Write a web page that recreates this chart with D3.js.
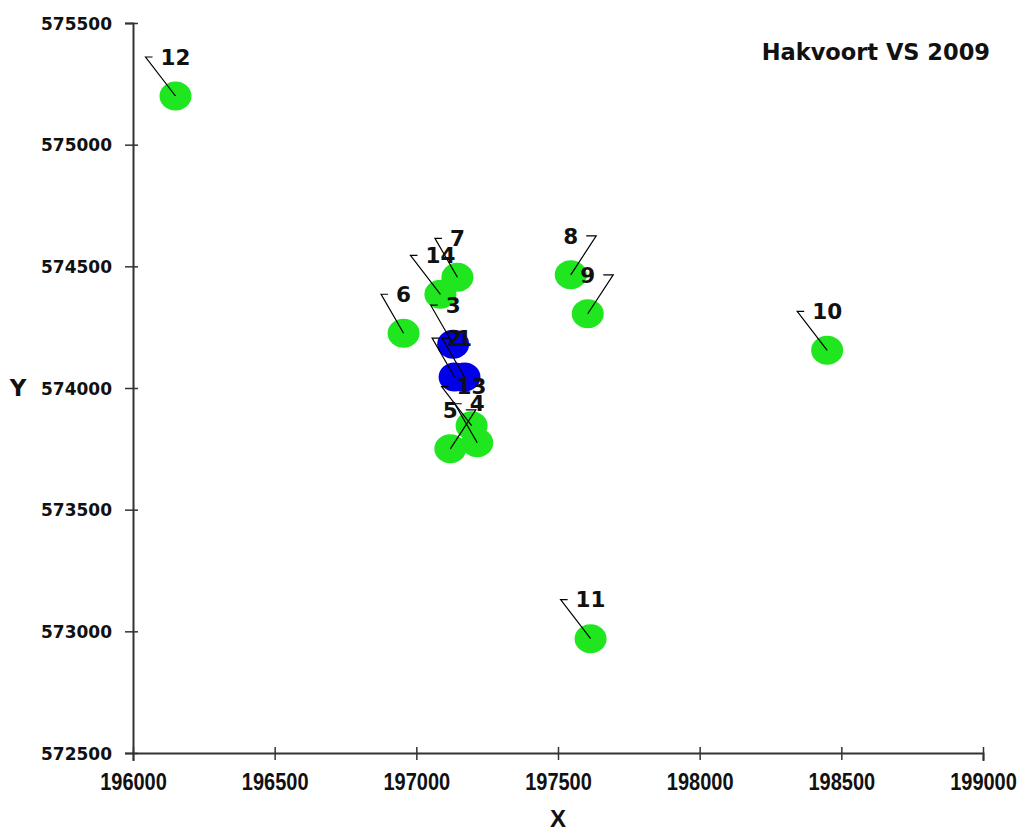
<!DOCTYPE html>
<html>
<head>
<meta charset="utf-8">
<script src="https://cdn.jsdelivr.net/npm/d3@7/dist/d3.min.js"></script>
<style>
  html, body { margin: 0; padding: 0; background: #fff; }
  svg { display: block; }
</style>
</head>
<body>
<svg id="chart" width="1022" height="832"></svg>
<script>
// ---- data ----
const pointIds   = [1, 2, 3, 4, 5, 6, 7, 8, 9, 10, 11, 12, 13, 14];
const pointX     = [197170, 197135, 197130, 197215, 197120, 196955, 197145, 197545, 197605, 198450, 197615, 196150, 197195, 197085];
const pointY     = [574045, 574045, 574180, 573775, 573750, 574225, 574455, 574465, 574305, 574155, 572970, 575200, 573845, 574385];
const pointGroup = ["blue", "blue", "blue", "green", "green", "green", "green", "green", "green", "green", "green", "green", "green", "green"];
const labelSide  = ["left", "left", "left", "left", "right", "left", "left", "right", "right", "left", "left", "left", "left", "left"];
const xTicks = [196000, 196500, 197000, 197500, 198000, 198500, 199000];
const yTicks = [572500, 573000, 573500, 574000, 574500, 575000, 575500];
const titleText = "Hakvoort VS 2009";

const points = pointIds.map((id, i) => ({
  id, x: pointX[i], y: pointY[i], group: pointGroup[i], side: labelSide[i]
}));

// ---- layout ----
const svg = d3.select("#chart");
const plotL = 133, plotR = 983, plotT = 23, plotB = 753;
const x = d3.scaleLinear().domain([196000, 199000]).range([plotL, plotR]);
const y = d3.scaleLinear().domain([572500, 575500]).range([plotB, plotT]);
const colors = { green: "#1fe61f", blue: "#0000e8" };
const axisColor = "#333";

// ---- axes ----
const gx = svg.append("g").attr("transform", `translate(0,${plotB})`)
  .call(d3.axisBottom(x).tickValues(xTicks).tickFormat(d3.format("d")).tickSizeOuter(0).tickSize(8));
gx.select(".domain").attr("stroke", axisColor).attr("stroke-width", 2);
gx.selectAll(".tick line").attr("stroke", axisColor).attr("stroke-width", 1.5).attr("y1", -6).attr("y2", 7);
gx.selectAll(".tick text")
  .attr("y", 0).attr("dy", "0.36em")
  .attr("transform", "translate(0,28) scale(1,1.2)")
  .attr("font-family", "'Liberation Sans', Arial, sans-serif")
  .attr("font-weight", "bold").attr("font-size", 20).attr("fill", "#111");

const gy = svg.append("g").attr("transform", `translate(${plotL},0)`)
  .call(d3.axisLeft(y).tickValues(yTicks).tickFormat(d3.format("d")).tickSizeOuter(0).tickSize(8));
gy.select(".domain").attr("stroke", axisColor).attr("stroke-width", 2);
gy.selectAll(".tick line").attr("stroke", axisColor).attr("stroke-width", 1.5).attr("x1", 5).attr("x2", -8);
gy.selectAll(".tick text")
  .attr("x", -21).attr("dy", "0.36em")
  .attr("font-family", "'DejaVu Sans', Verdana, sans-serif")
  .attr("font-weight", "bold").attr("font-size", 17).attr("fill", "#111");

// axis titles
svg.append("text").attr("x", 18).attr("y", y(574000)).attr("dy", "0.36em")
  .attr("text-anchor", "middle")
  .attr("font-family", "'DejaVu Sans', Verdana, sans-serif").attr("font-weight", "bold")
  .attr("font-size", 23).attr("fill", "#111").text("Y");
svg.append("text").attr("x", (plotL + plotR) / 2).attr("y", 818).attr("dy", "0.36em")
  .attr("text-anchor", "middle")
  .attr("font-family", "'Liberation Sans', Arial, sans-serif").attr("font-weight", "bold")
  .attr("font-size", 24).attr("fill", "#111").text("X");

// title
svg.append("text").attr("x", 990).attr("y", 52).attr("dy", "0.36em")
  .attr("text-anchor", "end")
  .attr("font-family", "'DejaVu Sans', Verdana, sans-serif").attr("font-weight", "bold")
  .attr("font-size", 22.5).attr("fill", "#111").text(titleText);

// ---- points ----
svg.append("g").selectAll("ellipse").data(points).join("ellipse")
  .attr("cx", d => x(d.x)).attr("cy", d => y(d.y))
  .attr("rx", 16).attr("ry", 14.5)
  .attr("fill", d => colors[d.group]);

// ---- labels with leaders ----
const labelFont = 21.5;
const digitW = 0.696 * labelFont;
const lab = svg.append("g");
points.forEach(d => {
  const px = x(d.x), py = y(d.y);
  const w = String(d.id).length * digitW;
  const ty = py - 39;
  let corner, tickEnd;
  if (d.side === "left") {
    const tl = px - w / 2;
    corner = [tl - 15, ty];
    tickEnd = [tl - 8, ty];
  } else {
    const tr = px + w / 2;
    corner = [tr + 18, ty];
    tickEnd = [tr + 8, ty];
  }
  lab.append("polyline")
    .attr("points", [[px, py], corner, tickEnd].map(p => p.join(",")).join(" "))
    .attr("fill", "none").attr("stroke", "#000").attr("stroke-width", 1.2);
});
points.forEach(d => {
  lab.append("text")
    .attr("x", x(d.x)).attr("y", y(d.y) - 39).attr("dy", "0.36em")
    .attr("text-anchor", "middle")
    .attr("font-family", "'DejaVu Sans', Verdana, sans-serif").attr("font-weight", "bold")
    .attr("font-size", labelFont).attr("fill", "#111")
    .text(d.id);
});
</script>
</body>
</html>
